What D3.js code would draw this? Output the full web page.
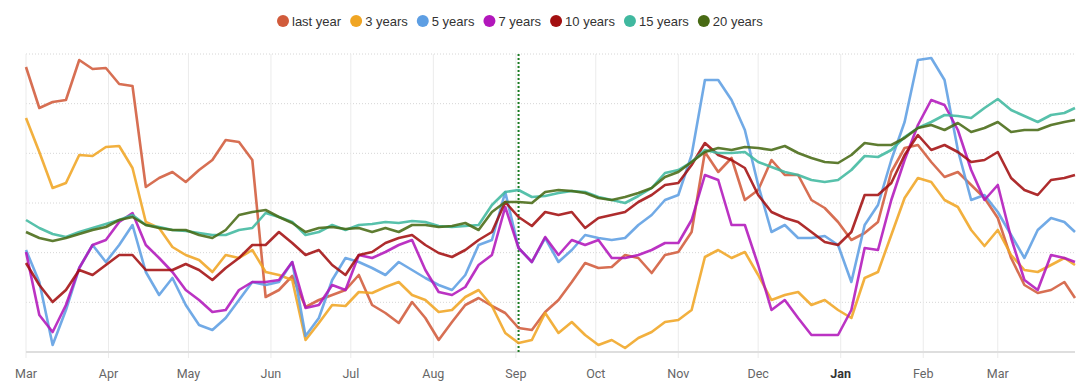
<!DOCTYPE html>
<html>
<head>
<meta charset="utf-8">
<script src="https://cdn.jsdelivr.net/npm/d3@7"></script>
<style>
body{margin:0;background:#fff;}
svg{display:block;}
</style>
</head>
<body>
<svg id="chart" width="1092" height="391"></svg>
<script>
// time range of the chart, one point every 5 days
var startDate = new Date(2022, 2, 1);
var endDate = new Date(2023, 2, 30);
var todayDate = new Date(2022, 8, 2);
var stepDays = 5;

var seriesNames = ["last year", "3 years", "5 years", "7 years", "10 years", "15 years", "20 years"];
var seriesColors = ["#d15b3b", "#f0a523", "#5d9ee3", "#b217bb", "#a30f10", "#40b89f", "#486a14"];

var lastYear = [285,244,250,252,292,283,284,268,266,165,
  174,180,170,182,192,212,210,192,55,62,
  76,45,52,57,62,77,47,39,29,50,
  34,12,30,47,54,46,39,24,22,40,
  52,70,89,84,85,97,94,79,97,100,
  120,200,180,194,152,162,192,177,177,152,
  144,130,112,119,130,180,204,207,190,175,
  180,167,154,134,94,67,59,62,70,54];
var threeYears = [234,200,164,169,197,196,205,206,184,130,
  124,105,97,92,80,97,94,102,80,77,
  72,12,29,47,46,60,59,65,70,57,
  52,40,42,55,62,46,19,9,12,39,
  19,30,17,7,12,4,14,20,30,32,
  42,95,102,94,100,77,52,57,60,47,
  52,42,34,74,80,117,154,174,170,152,
  145,122,106,122,97,82,80,87,94,87];
var fiveYears = [102,70,7,42,84,107,90,107,127,80,
  57,74,47,27,22,34,52,70,67,70,
  90,16,34,72,94,90,84,77,90,82,
  74,67,62,77,107,112,160,104,90,114,
  90,102,117,114,112,114,127,137,152,157,
  197,272,272,252,222,167,120,127,114,114,
  116,107,70,127,147,192,230,292,294,272,
  202,152,157,140,117,94,122,134,130,120];
var sevenYears = [100,37,20,47,84,107,112,130,139,107,
  94,80,62,52,40,42,62,70,70,72,
  90,44,47,67,62,97,94,100,107,112,
  82,60,57,65,87,97,145,104,90,115,
  97,112,107,112,94,94,97,102,109,109,
  132,177,172,127,127,87,42,52,34,17,
  17,17,42,104,102,152,192,227,252,247,
  222,182,152,167,114,72,62,97,94,90];
var tenYears = [89,67,50,62,82,77,87,97,97,82,
  82,82,88,82,72,84,94,107,107,120,
  109,97,102,87,77,97,100,109,114,117,
  107,99,95,102,112,120,150,135,126,140,
  137,140,124,134,137,140,150,157,167,169,
  187,209,197,192,184,157,140,134,130,120,
  110,107,120,157,157,169,197,217,202,207,
  200,190,192,200,174,162,157,172,174,177];
var fifteenYears = [132,124,118,115,120,124,128,132,137,127,
  125,122,121,119,117,117,122,124,139,135,
  130,117,120,127,122,127,128,130,129,131,
  130,126,125,126,127,147,160,162,155,156,
  159,161,160,155,152,149,156,164,179,182,
  190,202,199,199,200,190,185,180,177,172,
  170,172,182,196,195,202,215,224,230,237,
  236,234,244,253,242,236,230,237,239,244];
var twentyYears = [120,114,111,114,118,122,125,132,135,127,
  124,122,122,117,114,122,137,140,142,135,
  129,120,124,125,123,124,120,124,120,127,
  127,125,126,129,122,140,150,150,149,160,
  162,161,159,154,152,155,159,164,175,180,
  190,200,204,202,205,204,202,206,199,194,
  190,189,197,209,207,207,214,224,227,222,
  229,220,224,230,220,222,222,227,230,232];

var seriesValues = [lastYear, threeYears, fiveYears, sevenYears, tenYears, fifteenYears, twentyYears];
var yMax = 298;

var svg = d3.select("#chart");
var marge = {top:54, bottom:39, left:26, right:17};
var width = +svg.attr("width");
var height = +svg.attr("height");

var totalDays = d3.timeDay.count(startDate, endDate);
var dates = lastYear.map(function(v, i){ return d3.timeDay.offset(startDate, Math.min(i*stepDays, totalDays)); });

var x = d3.scaleTime().domain([startDate, endDate]).range([marge.left, width - marge.right]);
var y = d3.scaleLinear().domain([0, yMax]).range([height - marge.bottom, marge.top]);

var g = svg.append("g");

// horizontal dotted grid
var gridValues = d3.range(1, 7).map(function(k){ return k*yMax/6; });
g.selectAll(".hgrid").data(gridValues).enter().append("line")
  .attr("class","hgrid")
  .attr("x1", x.range()[0]).attr("x2", x.range()[1])
  .attr("y1", function(d){ return y(d); }).attr("y2", function(d){ return y(d); })
  .attr("stroke","#d6d6d6").attr("stroke-width",1).attr("stroke-dasharray","1,2");

// month grid + ticks
var months = d3.timeMonth.range(startDate, endDate);
g.selectAll(".vgrid").data(months).enter().append("line")
  .attr("class","vgrid")
  .attr("x1", function(d){ return x(d); }).attr("x2", function(d){ return x(d); })
  .attr("y1", y(yMax)).attr("y2", y(0) + 6)
  .attr("stroke","#ebebeb").attr("stroke-width",1);

// baseline
g.append("line")
  .attr("x1", x.range()[0]).attr("x2", x.range()[1])
  .attr("y1", y(0)).attr("y2", y(0))
  .attr("stroke","#dedede").attr("stroke-width",2);

g.selectAll(".mlabel").data(months).enter().append("text")
  .attr("class","mlabel")
  .attr("x", function(d){ return x(d); })
  .attr("y", y(0) + 26)
  .attr("text-anchor","middle")
  .style("font-family","Roboto, sans-serif")
  .style("font-size","12.5px")
  .style("font-weight", function(d){ return d.getMonth() === 0 ? "bold" : "normal"; })
  .attr("fill", function(d){ return d.getMonth() === 0 ? "#333" : "#666"; })
  .text(d3.timeFormat("%b"));

// today marker
g.append("line")
  .attr("x1", x(todayDate)).attr("x2", x(todayDate))
  .attr("y1", y(yMax)).attr("y2", y(0))
  .attr("stroke","#1b7a22").attr("stroke-width",2).attr("stroke-dasharray","2,2");

// lines
var line = d3.line()
  .x(function(d){ return x(d.date); })
  .y(function(d){ return y(d.v); });

seriesValues.forEach(function(vals, k){
  var pts = vals.map(function(v, i){ return {date: dates[i], v: v}; });
  g.append("path")
    .datum(pts)
    .attr("d", line)
    .attr("fill","none")
    .attr("stroke", seriesColors[k])
    .attr("stroke-width", 2.6)
    .attr("stroke-linejoin","round")
    .attr("opacity", 0.88);
});

// legend
var legend = svg.append("g").attr("transform","translate(0,21)");
var lx = 277;
seriesNames.forEach(function(name, k){
  var item = legend.append("g").attr("transform","translate(" + lx + ",0)");
  item.append("circle").attr("cx",6).attr("cy",0).attr("r",6).attr("fill",seriesColors[k]);
  var t = item.append("text").attr("x",15).attr("y",4.5)
    .style("font-family","'Liberation Sans', Arial, sans-serif")
    .style("font-size","13px")
    .attr("fill","#333")
    .text(name);
  lx += 15 + t.node().getComputedTextLength() + 9;
});
</script>
</body>
</html>
